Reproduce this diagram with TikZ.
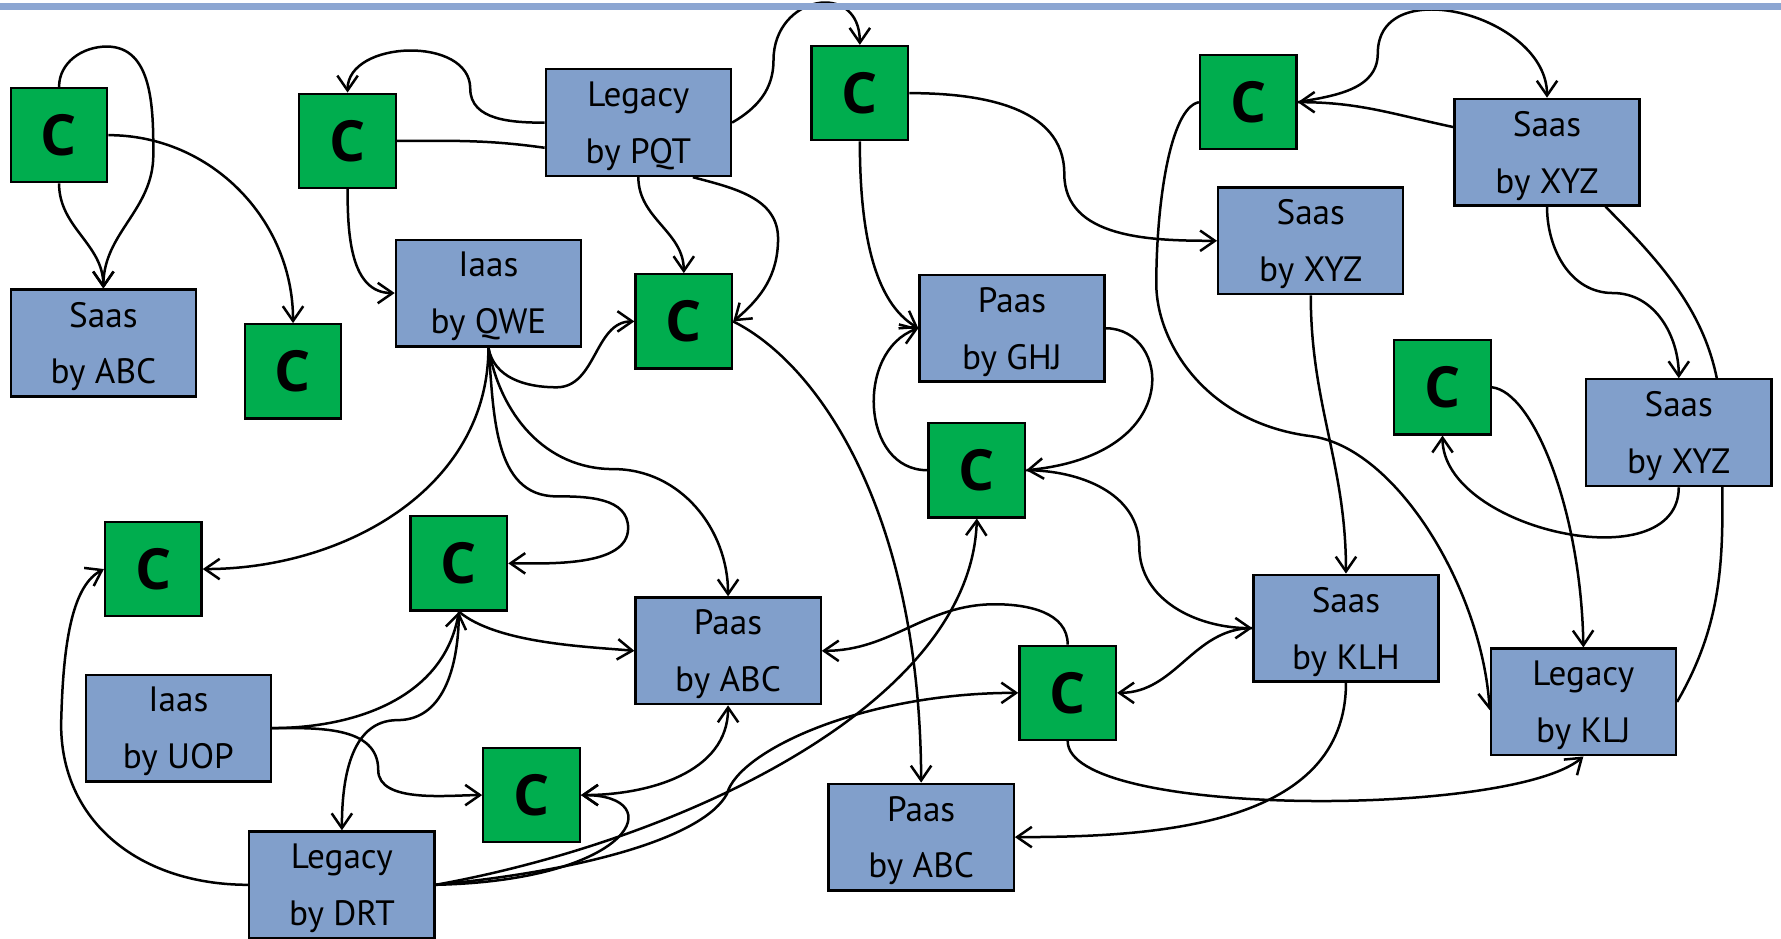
\documentclass[tikz,border=0pt]{standalone}
\usepackage{fontspec}
\setmainfont{PT Sans}
\newfontfamily\cfont{Open Sans}
\usetikzlibrary{arrows.meta,backgrounds}
\definecolor{svcblue}{RGB}{129,159,203}
\definecolor{cgreen}{RGB}{0,173,78}
\definecolor{barblue}{RGB}{140,166,210}
\tikzset{
  cbox/.style={draw, line width=2pt, fill=cgreen, minimum width=85pt, minimum height=83pt,
    inner sep=0pt, font=\cfont\fontsize{50}{50}\selectfont\bfseries},
  svc/.style={draw, line width=2pt, fill=svcblue, minimum width=163pt, minimum height=94pt,
    inner sep=0pt, align=center, text depth=0pt, font=\fontsize{31}{50}\selectfont},
  link/.style={line width=2.2pt},
  topbar/.style={line width=6pt, draw=barblue}
}
\begin{document}
\begin{tikzpicture}[x=1pt, y=1pt, >={Straight Barb[length=13pt,width=18pt]}]
        \useasboundingbox (0,0) rectangle (1568,826);
        \draw[topbar] (0,820) -- (1568,820);
        % components and services
        \node[cbox] (ca) at (52,707) {C};
        \node[svc] (saasabc) at (91,524) {Saas\\by ABC};
        \node[cbox] (cb) at (258,499) {C};
        \node[cbox] (cc) at (306,702) {C};
        \node[svc] (legpqt) at (562,718) {Legacy\\by PQT};
        \node[svc] (iaasqwe) at (430,568) {Iaas\\by QWE};
        \node[cbox] (cd) at (602,543) {C};
        \node[cbox] (ce) at (757,744) {C};
        \node[svc] (paasghj) at (891,537) {Paas\\by GHJ};
        \node[cbox] (cf) at (860,412) {C};
        \node[cbox] (cg) at (1099,736) {C};
        \node[svc] (saasxyzm) at (1154,614) {Saas\\by XYZ};
        \node[svc] (saasxyzt) at (1362,692) {Saas\\by XYZ};
        \node[cbox] (ch) at (1270,485) {C};
        \node[svc] (saasxyzr) at (1478,445) {Saas\\by XYZ};
        \node[svc] (saasklh) at (1185,273) {Saas\\by KLH};
        \node[svc] (legklj) at (1394,208) {Legacy\\by KLJ};
        \node[cbox] (ci) at (135,325) {C};
        \node[cbox] (cj) at (404,330) {C};
        \node[svc] (paasabcm) at (641,253) {Paas\\by ABC};
        \node[svc] (iaasuop) at (157,185) {Iaas\\by UOP};
        \node[cbox] (ck) at (468,126) {C};
        \node[svc] (legdrt) at (301,47) {Legacy\\by DRT};
        \node[cbox] (cl) at (940,216) {C};
        \node[svc] (paasabcb) at (811,89) {Paas\\by ABC};
        % connectors, kept under the boxes
        \begin{scope}[on background layer]
        \begin{scope}[link]
        \path[->]
        (ca.south) edge [out=-90,in=90] (saasabc.north)
        (ca.east) edge [out=0,in=90] (cb.north)
        (cc.south) edge [out=-90,in=180] (iaasqwe.west)
        (legpqt.south) edge [out=-90,in=90] (cd.north)
        (iaasqwe.south) edge [out=-90,in=0] (ci.east)
        (cf.west) edge [out=180,in=200,looseness=1.2] (paasghj.west)
        (saasklh.west) edge [out=180,in=0] (cl.east)
        (saasklh.south) edge [out=-90,in=0] (paasabcb.east)
        (saasxyzm.south) edge [out=-90,in=90] (saasklh.north)
        (saasxyzt.165) edge [out=168,in=0] (cg.east)
        (saasxyzr.south) edge [out=-90,in=-90] (ch.south)
        (iaasuop.east) edge [out=0,in=-100] (cj.south)
        (cj.south) edge [out=-40,in=175,looseness=0.7] (paasabcm.west)
        (paasabcm.south) edge [<->,out=-90,in=0] (ck.east)
        ;
        \draw (cc.east) to[out=0,in=172] (legpqt.195);
        \draw[->] (ca.north) to[out=90,in=180] (94,785) to[out=0,in=90] (135,690)
            to[out=-90,in=90] (saasabc.north);
        \draw[->] (legpqt.west) to[out=180,in=-90] (414,748)
            to[out=90,in=90,looseness=1.1] (cc.north);
        \draw[->] (legpqt.-45) to[out=-15,in=90] (685,616) to[out=-90,in=40] (cd.east);
        \draw[->] (legpqt.east) to[out=30,in=-90] (681,773)
            to[out=90,in=90,looseness=1.9] (ce.north);
        \draw[->] (iaasqwe.south) to[out=-80,in=180] (490,485) to[out=0,in=180] (cd.west);
        \draw[->] (iaasqwe.south) to[out=-85,in=180] (490,389) to[out=0,in=90] (553,361)
            to[out=-90,in=0,looseness=0.8] (cj.east);
        \draw[->] (iaasqwe.south) to[out=-80,in=180] (540,413) to[out=0,in=90] (paasabcm.north);
        \draw[->] (ce.south) .. controls (757,620) and (770,560) .. (paasghj.west);
        \draw[->] (ce.east) to[out=0,in=90] (937,673) to[out=-90,in=180] (saasxyzm.west);
        \draw[->] (cd.east) .. controls (720,506) and (810,376) .. (paasabcb.north);
        \draw[->] (paasghj.east) .. controls (1030,537) and (1045,426) .. (cf.east);
        \draw[->] (cf.east) to[out=0,in=90] (1003,345) to[out=-90,in=180] (saasklh.west);
        \draw[->] (legdrt.east) .. controls (600,86) and (855,206) .. (cf.south);
        \draw[->] (legdrt.east) .. controls (520,60) and (620,90) .. (640,127)
            .. controls (650,165) and (760,216) .. (cl.west);
        \draw[->] (legdrt.east) .. controls (560,51) and (590,126) .. (ck.east);
        \draw[->] (cl.north) to[out=90,in=0] (876,294) to[out=180,in=0] (paasabcm.east);
        \draw[->] (cl.south) .. controls (940,106) and (1330,106) .. (legklj.south);
        \draw[->] (cg.west) .. controls (1030,731) and (1018,646) .. (1018,576)
            .. controls (1018,526) and (1060,454) .. (1154,442)
            .. controls (1230,432) and (1305,306) .. (legklj.185);
        \draw[->] (cg.east) to[out=10,in=-90] (1213,779)
            to[out=90,in=90,looseness=1.2] (saasxyzt.north);
        \draw[->] (saasxyzt.south) to[out=-90,in=180] (1420,568) to[out=0,in=90] (saasxyzr.north);
        \draw (saasxyzt.-43) to[out=-45,in=90] (1516,446) to[out=-90,in=60] (legklj.east);
        \draw[->] (ch.east) .. controls (1350,481) and (1392,376) .. (legklj.north);
        \draw[->] (iaasuop.east) to[out=0,in=90] (333,148)
            to[out=-90,in=180,looseness=0.8] (ck.west);
        \draw[->] (cj.south) to[out=-90,in=0] (350,192) to[out=180,in=90] (legdrt.north);
        \draw[->] (legdrt.west) .. controls (120,47) and (50,106) .. (54,195)
            .. controls (56,266) and (65,311) .. (ci.west);
        \end{scope}
        \end{scope}
\end{tikzpicture}
\end{document}
